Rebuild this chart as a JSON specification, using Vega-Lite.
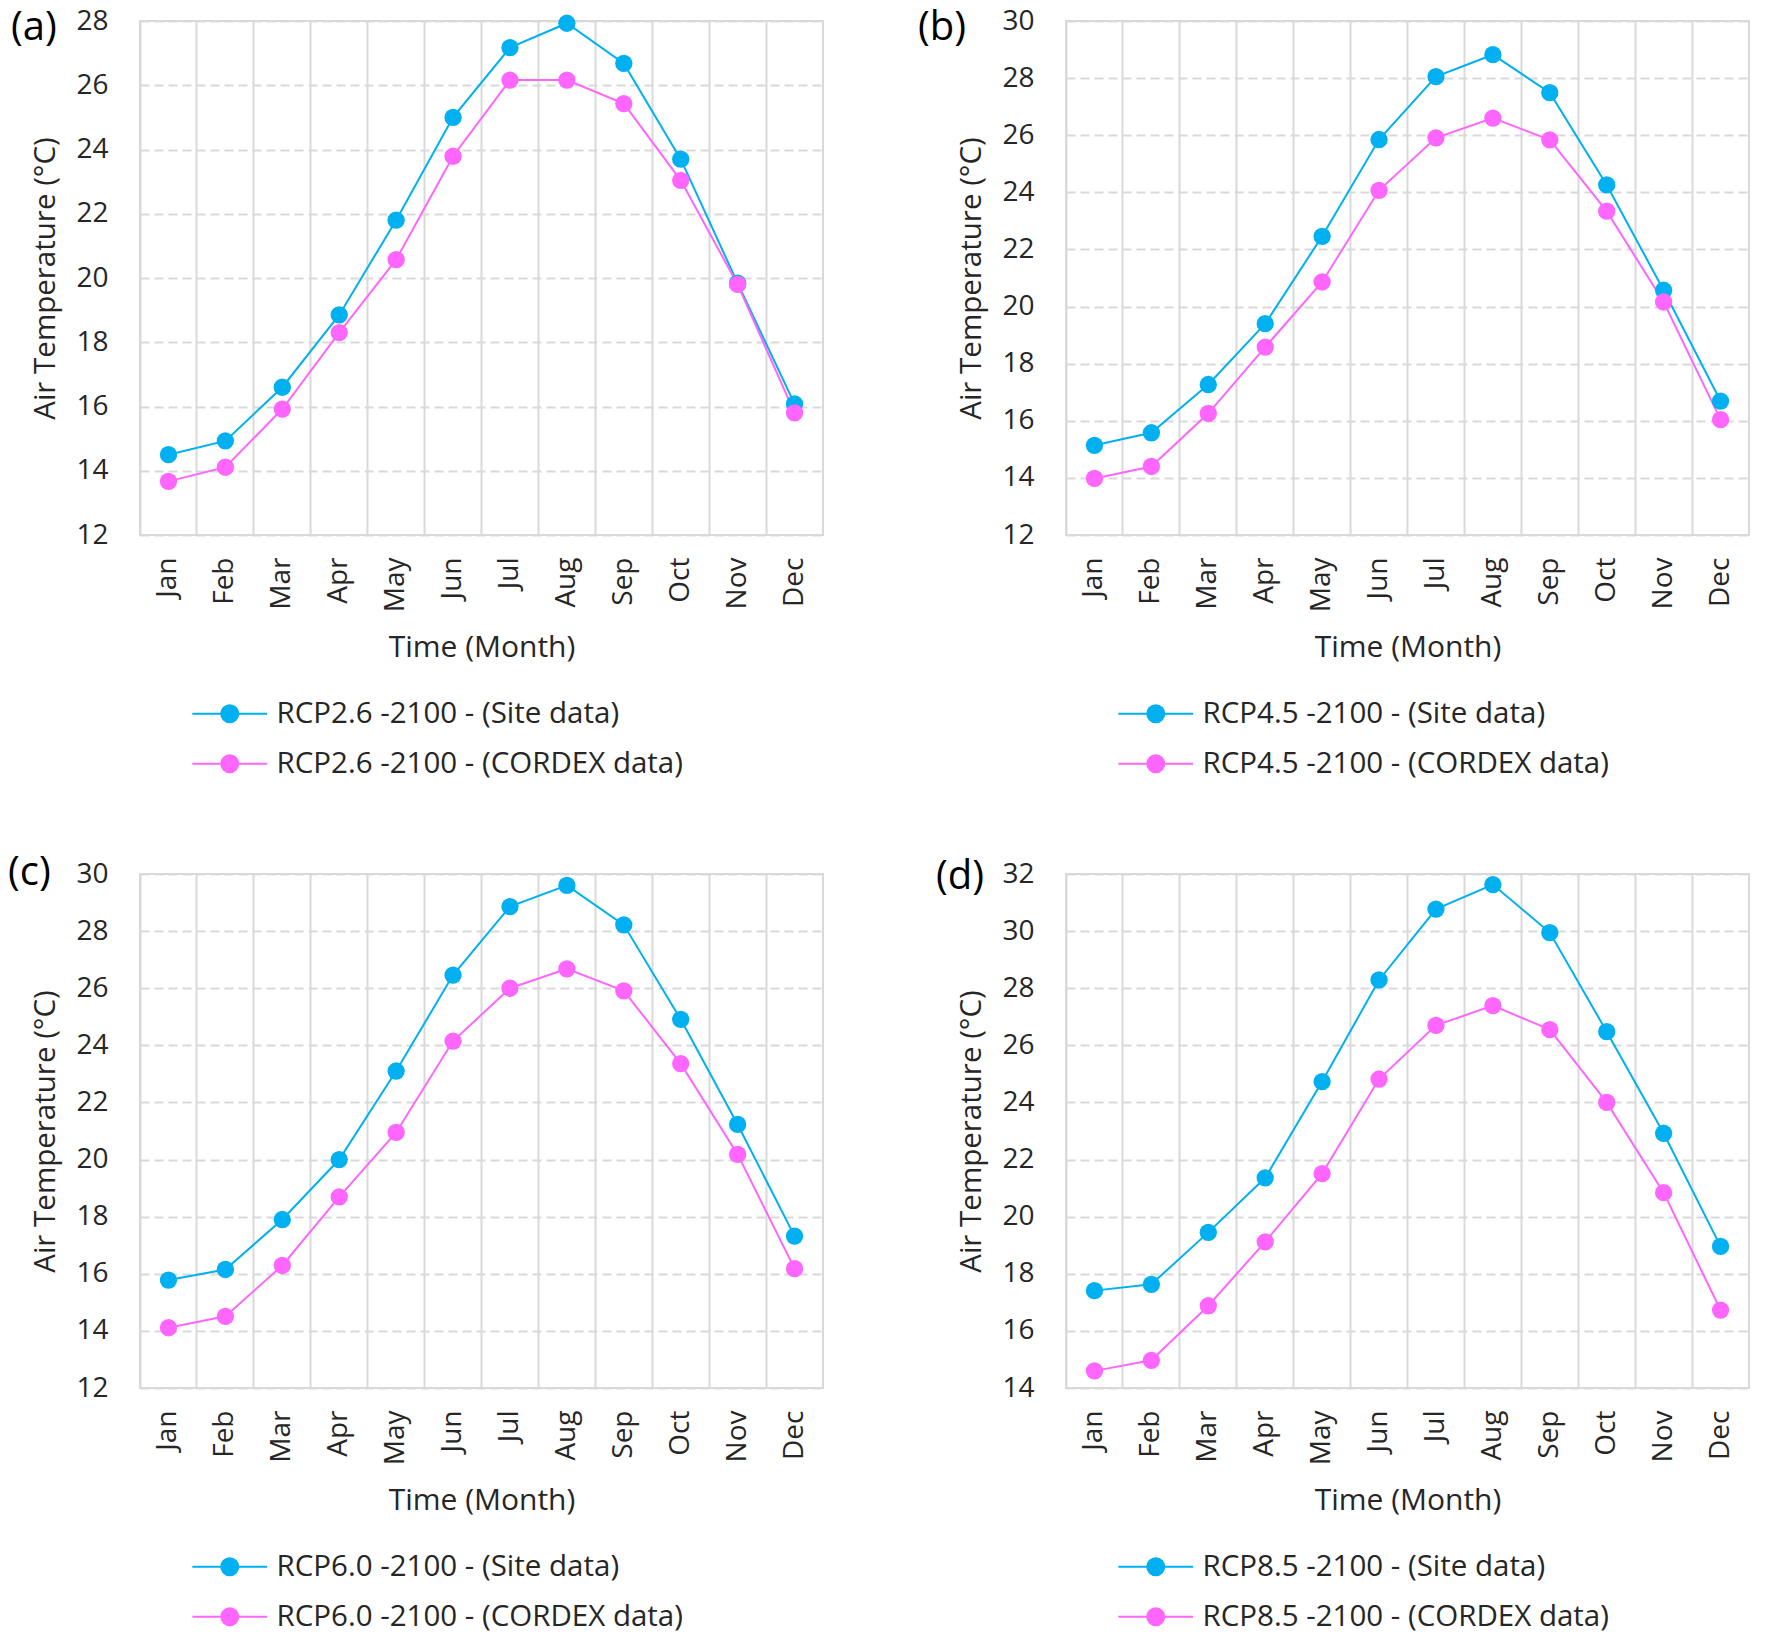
{
  "$schema": "https://vega.github.io/schema/vega-lite/v6.json",
  "background": "white",
  "autosize": {"type": "pad"},
  "padding": {"left": 7, "top": 6, "right": 5, "bottom": 5},
  "datasets": {
    "temps": [
      {"panel": "a", "month": "Jan", "series": "RCP2.6 -2100 - (Site data)", "temp": 14.5},
      {"panel": "a", "month": "Feb", "series": "RCP2.6 -2100 - (Site data)", "temp": 14.93},
      {"panel": "a", "month": "Mar", "series": "RCP2.6 -2100 - (Site data)", "temp": 16.6},
      {"panel": "a", "month": "Apr", "series": "RCP2.6 -2100 - (Site data)", "temp": 18.85},
      {"panel": "a", "month": "May", "series": "RCP2.6 -2100 - (Site data)", "temp": 21.8},
      {"panel": "a", "month": "Jun", "series": "RCP2.6 -2100 - (Site data)", "temp": 25.0},
      {"panel": "a", "month": "Jul", "series": "RCP2.6 -2100 - (Site data)", "temp": 27.17},
      {"panel": "a", "month": "Aug", "series": "RCP2.6 -2100 - (Site data)", "temp": 27.93},
      {"panel": "a", "month": "Sep", "series": "RCP2.6 -2100 - (Site data)", "temp": 26.68},
      {"panel": "a", "month": "Oct", "series": "RCP2.6 -2100 - (Site data)", "temp": 23.7},
      {"panel": "a", "month": "Nov", "series": "RCP2.6 -2100 - (Site data)", "temp": 19.84},
      {"panel": "a", "month": "Dec", "series": "RCP2.6 -2100 - (Site data)", "temp": 16.08},
      {"panel": "a", "month": "Jan", "series": "RCP2.6 -2100 - (CORDEX data)", "temp": 13.67},
      {"panel": "a", "month": "Feb", "series": "RCP2.6 -2100 - (CORDEX data)", "temp": 14.11},
      {"panel": "a", "month": "Mar", "series": "RCP2.6 -2100 - (CORDEX data)", "temp": 15.92},
      {"panel": "a", "month": "Apr", "series": "RCP2.6 -2100 - (CORDEX data)", "temp": 18.3},
      {"panel": "a", "month": "May", "series": "RCP2.6 -2100 - (CORDEX data)", "temp": 20.57},
      {"panel": "a", "month": "Jun", "series": "RCP2.6 -2100 - (CORDEX data)", "temp": 23.79},
      {"panel": "a", "month": "Jul", "series": "RCP2.6 -2100 - (CORDEX data)", "temp": 26.16},
      {"panel": "a", "month": "Aug", "series": "RCP2.6 -2100 - (CORDEX data)", "temp": 26.16},
      {"panel": "a", "month": "Sep", "series": "RCP2.6 -2100 - (CORDEX data)", "temp": 25.43},
      {"panel": "a", "month": "Oct", "series": "RCP2.6 -2100 - (CORDEX data)", "temp": 23.04},
      {"panel": "a", "month": "Nov", "series": "RCP2.6 -2100 - (CORDEX data)", "temp": 19.8},
      {"panel": "a", "month": "Dec", "series": "RCP2.6 -2100 - (CORDEX data)", "temp": 15.8},
      {"panel": "b", "month": "Jan", "series": "RCP4.5 -2100 - (Site data)", "temp": 15.14},
      {"panel": "b", "month": "Feb", "series": "RCP4.5 -2100 - (Site data)", "temp": 15.58},
      {"panel": "b", "month": "Mar", "series": "RCP4.5 -2100 - (Site data)", "temp": 17.27},
      {"panel": "b", "month": "Apr", "series": "RCP4.5 -2100 - (Site data)", "temp": 19.4},
      {"panel": "b", "month": "May", "series": "RCP4.5 -2100 - (Site data)", "temp": 22.46},
      {"panel": "b", "month": "Jun", "series": "RCP4.5 -2100 - (Site data)", "temp": 25.85},
      {"panel": "b", "month": "Jul", "series": "RCP4.5 -2100 - (Site data)", "temp": 28.05},
      {"panel": "b", "month": "Aug", "series": "RCP4.5 -2100 - (Site data)", "temp": 28.82},
      {"panel": "b", "month": "Sep", "series": "RCP4.5 -2100 - (Site data)", "temp": 27.49},
      {"panel": "b", "month": "Oct", "series": "RCP4.5 -2100 - (Site data)", "temp": 24.26},
      {"panel": "b", "month": "Nov", "series": "RCP4.5 -2100 - (Site data)", "temp": 20.57},
      {"panel": "b", "month": "Dec", "series": "RCP4.5 -2100 - (Site data)", "temp": 16.69},
      {"panel": "b", "month": "Jan", "series": "RCP4.5 -2100 - (CORDEX data)", "temp": 13.98},
      {"panel": "b", "month": "Feb", "series": "RCP4.5 -2100 - (CORDEX data)", "temp": 14.4},
      {"panel": "b", "month": "Mar", "series": "RCP4.5 -2100 - (CORDEX data)", "temp": 16.26},
      {"panel": "b", "month": "Apr", "series": "RCP4.5 -2100 - (CORDEX data)", "temp": 18.58},
      {"panel": "b", "month": "May", "series": "RCP4.5 -2100 - (CORDEX data)", "temp": 20.86},
      {"panel": "b", "month": "Jun", "series": "RCP4.5 -2100 - (CORDEX data)", "temp": 24.07},
      {"panel": "b", "month": "Jul", "series": "RCP4.5 -2100 - (CORDEX data)", "temp": 25.91},
      {"panel": "b", "month": "Aug", "series": "RCP4.5 -2100 - (CORDEX data)", "temp": 26.6},
      {"panel": "b", "month": "Sep", "series": "RCP4.5 -2100 - (CORDEX data)", "temp": 25.84},
      {"panel": "b", "month": "Oct", "series": "RCP4.5 -2100 - (CORDEX data)", "temp": 23.34},
      {"panel": "b", "month": "Nov", "series": "RCP4.5 -2100 - (CORDEX data)", "temp": 20.16},
      {"panel": "b", "month": "Dec", "series": "RCP4.5 -2100 - (CORDEX data)", "temp": 16.04},
      {"panel": "c", "month": "Jan", "series": "RCP6.0 -2100 - (Site data)", "temp": 15.78},
      {"panel": "c", "month": "Feb", "series": "RCP6.0 -2100 - (Site data)", "temp": 16.15},
      {"panel": "c", "month": "Mar", "series": "RCP6.0 -2100 - (Site data)", "temp": 17.9},
      {"panel": "c", "month": "Apr", "series": "RCP6.0 -2100 - (Site data)", "temp": 20.0},
      {"panel": "c", "month": "May", "series": "RCP6.0 -2100 - (Site data)", "temp": 23.1},
      {"panel": "c", "month": "Jun", "series": "RCP6.0 -2100 - (Site data)", "temp": 26.46},
      {"panel": "c", "month": "Jul", "series": "RCP6.0 -2100 - (Site data)", "temp": 28.86},
      {"panel": "c", "month": "Aug", "series": "RCP6.0 -2100 - (Site data)", "temp": 29.6},
      {"panel": "c", "month": "Sep", "series": "RCP6.0 -2100 - (Site data)", "temp": 28.22},
      {"panel": "c", "month": "Oct", "series": "RCP6.0 -2100 - (Site data)", "temp": 24.91},
      {"panel": "c", "month": "Nov", "series": "RCP6.0 -2100 - (Site data)", "temp": 21.23},
      {"panel": "c", "month": "Dec", "series": "RCP6.0 -2100 - (Site data)", "temp": 17.32},
      {"panel": "c", "month": "Jan", "series": "RCP6.0 -2100 - (CORDEX data)", "temp": 14.11},
      {"panel": "c", "month": "Feb", "series": "RCP6.0 -2100 - (CORDEX data)", "temp": 14.51},
      {"panel": "c", "month": "Mar", "series": "RCP6.0 -2100 - (CORDEX data)", "temp": 16.29},
      {"panel": "c", "month": "Apr", "series": "RCP6.0 -2100 - (CORDEX data)", "temp": 18.69},
      {"panel": "c", "month": "May", "series": "RCP6.0 -2100 - (CORDEX data)", "temp": 20.95},
      {"panel": "c", "month": "Jun", "series": "RCP6.0 -2100 - (CORDEX data)", "temp": 24.15},
      {"panel": "c", "month": "Jul", "series": "RCP6.0 -2100 - (CORDEX data)", "temp": 26.0},
      {"panel": "c", "month": "Aug", "series": "RCP6.0 -2100 - (CORDEX data)", "temp": 26.68},
      {"panel": "c", "month": "Sep", "series": "RCP6.0 -2100 - (CORDEX data)", "temp": 25.91},
      {"panel": "c", "month": "Oct", "series": "RCP6.0 -2100 - (CORDEX data)", "temp": 23.36},
      {"panel": "c", "month": "Nov", "series": "RCP6.0 -2100 - (CORDEX data)", "temp": 20.18},
      {"panel": "c", "month": "Dec", "series": "RCP6.0 -2100 - (CORDEX data)", "temp": 16.18},
      {"panel": "d", "month": "Jan", "series": "RCP8.5 -2100 - (Site data)", "temp": 17.41},
      {"panel": "d", "month": "Feb", "series": "RCP8.5 -2100 - (Site data)", "temp": 17.63},
      {"panel": "d", "month": "Mar", "series": "RCP8.5 -2100 - (Site data)", "temp": 19.45},
      {"panel": "d", "month": "Apr", "series": "RCP8.5 -2100 - (Site data)", "temp": 21.36},
      {"panel": "d", "month": "May", "series": "RCP8.5 -2100 - (Site data)", "temp": 24.73},
      {"panel": "d", "month": "Jun", "series": "RCP8.5 -2100 - (Site data)", "temp": 28.29},
      {"panel": "d", "month": "Jul", "series": "RCP8.5 -2100 - (Site data)", "temp": 30.77},
      {"panel": "d", "month": "Aug", "series": "RCP8.5 -2100 - (Site data)", "temp": 31.63},
      {"panel": "d", "month": "Sep", "series": "RCP8.5 -2100 - (Site data)", "temp": 29.95},
      {"panel": "d", "month": "Oct", "series": "RCP8.5 -2100 - (Site data)", "temp": 26.48},
      {"panel": "d", "month": "Nov", "series": "RCP8.5 -2100 - (Site data)", "temp": 22.92},
      {"panel": "d", "month": "Dec", "series": "RCP8.5 -2100 - (Site data)", "temp": 18.96},
      {"panel": "d", "month": "Jan", "series": "RCP8.5 -2100 - (CORDEX data)", "temp": 14.6},
      {"panel": "d", "month": "Feb", "series": "RCP8.5 -2100 - (CORDEX data)", "temp": 14.97},
      {"panel": "d", "month": "Mar", "series": "RCP8.5 -2100 - (CORDEX data)", "temp": 16.88},
      {"panel": "d", "month": "Apr", "series": "RCP8.5 -2100 - (CORDEX data)", "temp": 19.12},
      {"panel": "d", "month": "May", "series": "RCP8.5 -2100 - (CORDEX data)", "temp": 21.51},
      {"panel": "d", "month": "Jun", "series": "RCP8.5 -2100 - (CORDEX data)", "temp": 24.82},
      {"panel": "d", "month": "Jul", "series": "RCP8.5 -2100 - (CORDEX data)", "temp": 26.7},
      {"panel": "d", "month": "Aug", "series": "RCP8.5 -2100 - (CORDEX data)", "temp": 27.39},
      {"panel": "d", "month": "Sep", "series": "RCP8.5 -2100 - (CORDEX data)", "temp": 26.55},
      {"panel": "d", "month": "Oct", "series": "RCP8.5 -2100 - (CORDEX data)", "temp": 24.0},
      {"panel": "d", "month": "Nov", "series": "RCP8.5 -2100 - (CORDEX data)", "temp": 20.84},
      {"panel": "d", "month": "Dec", "series": "RCP8.5 -2100 - (CORDEX data)", "temp": 16.73}
    ]
  },
  "data": {"name": "temps"},
  "columns": 2,
  "bounds": "flush",
  "spacing": {"row": 339, "column": 243},
  "concat": [
    {
      "width": 683, "height": 514,
      "title": {"text": "(a)", "anchor": "start", "frame": "group", "orient": "top", "dx": -129, "offset": -41},
      "transform": [{"filter": "datum.panel === 'a'"}],
      "encoding": {"y": {"field": "temp", "type": "quantitative", "scale": {"domain": [12, 28], "nice": false, "zero": false}, "axis": {"title": "Air Temperature (°C)", "values": [12, 14, 16, 18, 20, 22, 24, 26, 28]}}},
      "layer": [
        {"mark": {"type": "line", "strokeWidth": 2},
         "encoding": {
           "x": {"field": "month", "type": "ordinal", "bandPosition": 0.5, "sort": ["Jan","Feb","Mar","Apr","May","Jun","Jul","Aug","Sep","Oct","Nov","Dec"], "scale": {"type": "band", "paddingInner": 0, "paddingOuter": 0}, "axis": {"title": "Time (Month)", "labelAngle": -90, "labelPadding": 22, "titlePadding": 21}},
           "stroke": {"field": "series", "type": "nominal", "scale": {"domain": ["RCP2.6 -2100 - (Site data)", "RCP2.6 -2100 - (CORDEX data)"], "range": ["#00B0F0", "#FF66FF"]}, "legend": {"title": null}}}},
        {"mark": {"type": "point", "filled": true, "size": 300, "opacity": 1, "shape": "circle"},
         "encoding": {
           "x": {"field": "month", "type": "ordinal", "bandPosition": 0.5, "sort": ["Jan","Feb","Mar","Apr","May","Jun","Jul","Aug","Sep","Oct","Nov","Dec"], "scale": {"type": "band", "paddingInner": 0, "paddingOuter": 0}, "axis": {"orient": "top", "grid": true, "gridColor": "#d9d9d9", "gridWidth": 2, "bandPosition": 0, "labels": false, "ticks": false, "domain": false, "title": null}},
           "fill": {"field": "series", "type": "nominal", "scale": {"domain": ["RCP2.6 -2100 - (Site data)", "RCP2.6 -2100 - (CORDEX data)"], "range": ["#00B0F0", "#FF66FF"]}, "legend": {"title": null}}}}
      ],
      "resolve": {"axis": {"x": "independent"}}
    },
    {
      "width": 683, "height": 514,
      "title": {"text": "(b)", "anchor": "start", "frame": "group", "orient": "top", "dx": -148, "offset": -41},
      "transform": [{"filter": "datum.panel === 'b'"}],
      "encoding": {"y": {"field": "temp", "type": "quantitative", "scale": {"domain": [12, 30], "nice": false, "zero": false}, "axis": {"title": "Air Temperature (°C)", "values": [12, 14, 16, 18, 20, 22, 24, 26, 28, 30]}}},
      "layer": [
        {"mark": {"type": "line", "strokeWidth": 2},
         "encoding": {
           "x": {"field": "month", "type": "ordinal", "bandPosition": 0.5, "sort": ["Jan","Feb","Mar","Apr","May","Jun","Jul","Aug","Sep","Oct","Nov","Dec"], "scale": {"type": "band", "paddingInner": 0, "paddingOuter": 0}, "axis": {"title": "Time (Month)", "labelAngle": -90, "labelPadding": 22, "titlePadding": 21}},
           "stroke": {"field": "series", "type": "nominal", "scale": {"domain": ["RCP4.5 -2100 - (Site data)", "RCP4.5 -2100 - (CORDEX data)"], "range": ["#00B0F0", "#FF66FF"]}, "legend": {"title": null}}}},
        {"mark": {"type": "point", "filled": true, "size": 300, "opacity": 1, "shape": "circle"},
         "encoding": {
           "x": {"field": "month", "type": "ordinal", "bandPosition": 0.5, "sort": ["Jan","Feb","Mar","Apr","May","Jun","Jul","Aug","Sep","Oct","Nov","Dec"], "scale": {"type": "band", "paddingInner": 0, "paddingOuter": 0}, "axis": {"orient": "top", "grid": true, "gridColor": "#d9d9d9", "gridWidth": 2, "bandPosition": 0, "labels": false, "ticks": false, "domain": false, "title": null}},
           "fill": {"field": "series", "type": "nominal", "scale": {"domain": ["RCP4.5 -2100 - (Site data)", "RCP4.5 -2100 - (CORDEX data)"], "range": ["#00B0F0", "#FF66FF"]}, "legend": {"title": null}}}}
      ],
      "resolve": {"axis": {"x": "independent"}}
    },
    {
      "width": 683, "height": 514,
      "title": {"text": "(c)", "anchor": "start", "frame": "group", "orient": "top", "dx": -132, "offset": -33},
      "transform": [{"filter": "datum.panel === 'c'"}],
      "encoding": {"y": {"field": "temp", "type": "quantitative", "scale": {"domain": [12, 30], "nice": false, "zero": false}, "axis": {"title": "Air Temperature (°C)", "values": [12, 14, 16, 18, 20, 22, 24, 26, 28, 30]}}},
      "layer": [
        {"mark": {"type": "line", "strokeWidth": 2},
         "encoding": {
           "x": {"field": "month", "type": "ordinal", "bandPosition": 0.5, "sort": ["Jan","Feb","Mar","Apr","May","Jun","Jul","Aug","Sep","Oct","Nov","Dec"], "scale": {"type": "band", "paddingInner": 0, "paddingOuter": 0}, "axis": {"title": "Time (Month)", "labelAngle": -90, "labelPadding": 22, "titlePadding": 21}},
           "stroke": {"field": "series", "type": "nominal", "scale": {"domain": ["RCP6.0 -2100 - (Site data)", "RCP6.0 -2100 - (CORDEX data)"], "range": ["#00B0F0", "#FF66FF"]}, "legend": {"title": null}}}},
        {"mark": {"type": "point", "filled": true, "size": 300, "opacity": 1, "shape": "circle"},
         "encoding": {
           "x": {"field": "month", "type": "ordinal", "bandPosition": 0.5, "sort": ["Jan","Feb","Mar","Apr","May","Jun","Jul","Aug","Sep","Oct","Nov","Dec"], "scale": {"type": "band", "paddingInner": 0, "paddingOuter": 0}, "axis": {"orient": "top", "grid": true, "gridColor": "#d9d9d9", "gridWidth": 2, "bandPosition": 0, "labels": false, "ticks": false, "domain": false, "title": null}},
           "fill": {"field": "series", "type": "nominal", "scale": {"domain": ["RCP6.0 -2100 - (Site data)", "RCP6.0 -2100 - (CORDEX data)"], "range": ["#00B0F0", "#FF66FF"]}, "legend": {"title": null}}}}
      ],
      "resolve": {"axis": {"x": "independent"}}
    },
    {
      "width": 683, "height": 514,
      "title": {"text": "(d)", "anchor": "start", "frame": "group", "orient": "top", "dx": -130, "offset": -37},
      "transform": [{"filter": "datum.panel === 'd'"}],
      "encoding": {"y": {"field": "temp", "type": "quantitative", "scale": {"domain": [14, 32], "nice": false, "zero": false}, "axis": {"title": "Air Temperature (°C)", "values": [14, 16, 18, 20, 22, 24, 26, 28, 30, 32]}}},
      "layer": [
        {"mark": {"type": "line", "strokeWidth": 2},
         "encoding": {
           "x": {"field": "month", "type": "ordinal", "bandPosition": 0.5, "sort": ["Jan","Feb","Mar","Apr","May","Jun","Jul","Aug","Sep","Oct","Nov","Dec"], "scale": {"type": "band", "paddingInner": 0, "paddingOuter": 0}, "axis": {"title": "Time (Month)", "labelAngle": -90, "labelPadding": 22, "titlePadding": 21}},
           "stroke": {"field": "series", "type": "nominal", "scale": {"domain": ["RCP8.5 -2100 - (Site data)", "RCP8.5 -2100 - (CORDEX data)"], "range": ["#00B0F0", "#FF66FF"]}, "legend": {"title": null}}}},
        {"mark": {"type": "point", "filled": true, "size": 300, "opacity": 1, "shape": "circle"},
         "encoding": {
           "x": {"field": "month", "type": "ordinal", "bandPosition": 0.5, "sort": ["Jan","Feb","Mar","Apr","May","Jun","Jul","Aug","Sep","Oct","Nov","Dec"], "scale": {"type": "band", "paddingInner": 0, "paddingOuter": 0}, "axis": {"orient": "top", "grid": true, "gridColor": "#d9d9d9", "gridWidth": 2, "bandPosition": 0, "labels": false, "ticks": false, "domain": false, "title": null}},
           "fill": {"field": "series", "type": "nominal", "scale": {"domain": ["RCP8.5 -2100 - (Site data)", "RCP8.5 -2100 - (CORDEX data)"], "range": ["#00B0F0", "#FF66FF"]}, "legend": {"title": null}}}}
      ],
      "resolve": {"axis": {"x": "independent"}}
    }
  ],
  "resolve": {
    "scale": {"x": "independent", "y": "independent", "fill": "independent", "stroke": "independent"},
    "axis": {"x": "independent", "y": "independent"},
    "legend": {"fill": "independent", "stroke": "independent"}
  },
  "config": {
    "font": "Open Sans",
    "view": {"stroke": "#d9d9d9", "strokeWidth": 2},
    "title": {"font": "Open Sans", "fontSize": 40, "fontWeight": "normal", "color": "#000000"},
    "axis": {
      "labelFont": "Open Sans", "labelFontSize": 28, "labelColor": "#262626",
      "titleFont": "Open Sans", "titleFontSize": 29.5, "titleFontWeight": "normal", "titleColor": "#262626",
      "domain": false, "ticks": false, "grid": false
    },
    "axisX": {"titleFontSize": 30},
    "axisY": {"grid": true, "gridColor": "#d9d9d9", "gridWidth": 2, "gridDash": [9, 5], "labelPadding": 32, "titlePadding": 15},
    "legend": {
      "orient": "none", "legendX": 75, "legendY": 678, "direction": "vertical",
      "symbolType": "M-4.4,0L4.4,0M1,0A1,1,0,1,1,-1,0A1,1,0,1,1,1,0Z",
      "symbolSize": 289, "symbolStrokeWidth": 2,
      "labelFont": "Open Sans", "labelFontSize": 29.5, "labelColor": "#262626", "labelOffset": 32,
      "rowPadding": 19, "padding": 0, "labelLimit": 0
    }
  }
}
